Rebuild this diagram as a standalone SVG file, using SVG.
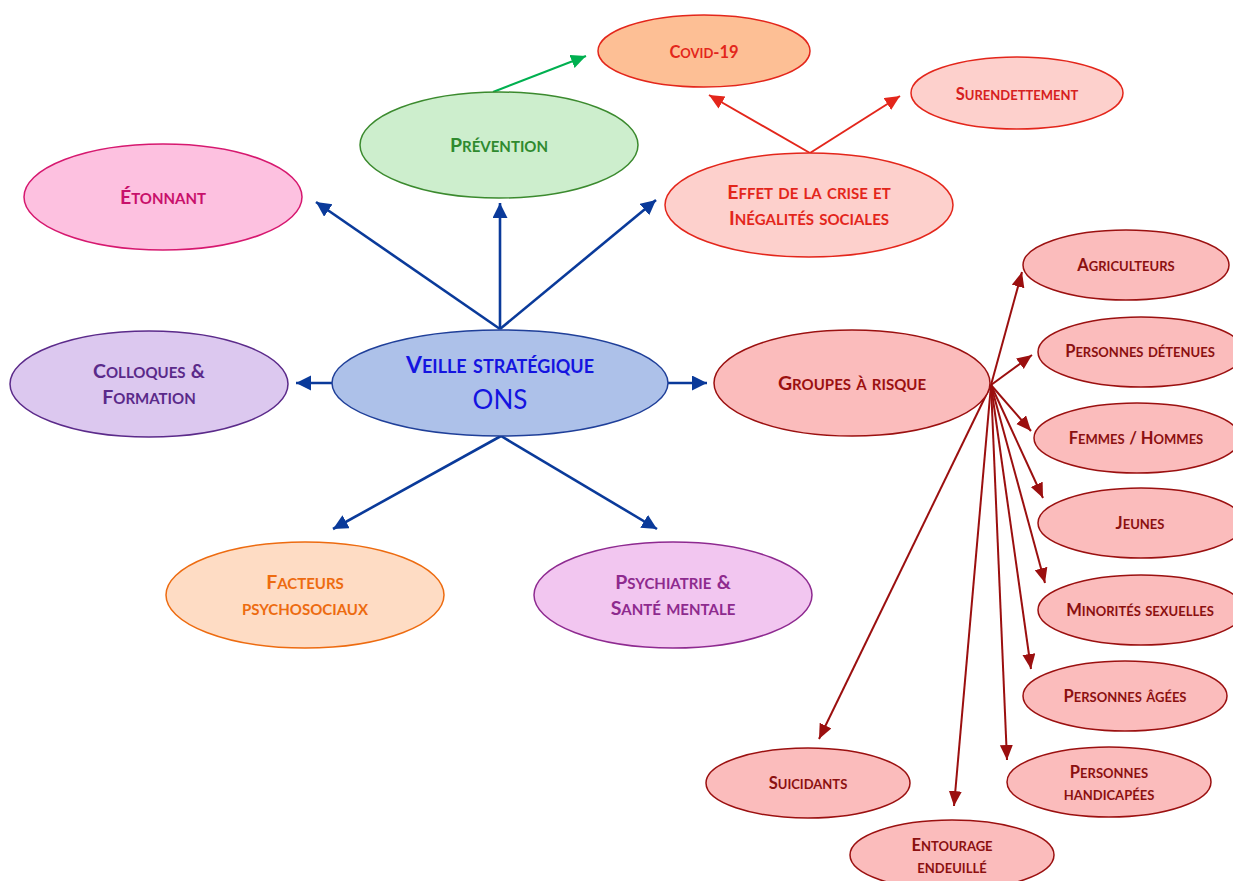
<svg xmlns="http://www.w3.org/2000/svg" width="1233" height="881" viewBox="0 0 1233 881">
<defs>
<style>
text{font-family:Lato,"Open Sans","Liberation Sans",sans-serif;font-weight:bold;font-variant:small-caps;text-anchor:middle}
.big{font-size:21.5px}
.big tspan{font-size:19.5px}
.sm{font-size:18.1px}
.sm tspan{font-size:16.5px}
.ctr{font-size:26px}
.ctr tspan{font-size:23px}
.blue{stroke:#0a3a9a;stroke-width:2.6;fill:none}
.green{stroke:#00b050;stroke-width:2;fill:none}
.red{stroke:#e3261b;stroke-width:2;fill:none}
.dred{stroke:#9b0f0f;stroke-width:2;fill:none}
.grp ellipse{fill:#fbbcbc;stroke:#9b1010;stroke-width:1.5}
.grp text{fill:#8b1010}
</style>
<marker id="mb" markerUnits="userSpaceOnUse" markerWidth="16" markerHeight="16" refX="15" refY="7.5" orient="auto"><path d="M0,0 L15,7.5 L0,15 z" fill="#0a3a9a"/></marker>
<marker id="mg" markerUnits="userSpaceOnUse" markerWidth="16" markerHeight="16" refX="15" refY="7" orient="auto"><path d="M0,0 L15,7 L0,14 z" fill="#00b050"/></marker>
<marker id="mr" markerUnits="userSpaceOnUse" markerWidth="16" markerHeight="16" refX="15" refY="7" orient="auto"><path d="M0,0 L15,7 L0,14 z" fill="#e3261b"/></marker>
<marker id="md" markerUnits="userSpaceOnUse" markerWidth="16" markerHeight="16" refX="15" refY="6.5" orient="auto"><path d="M0,0 L15,6.5 L0,13 z" fill="#9b0f0f"/></marker>
</defs>
<rect width="1233" height="881" fill="#ffffff"/>

<g id="connectors">
<line class="blue" x1="500" y1="329" x2="316" y2="202" marker-end="url(#mb)"/>
<line class="blue" x1="500" y1="329" x2="500" y2="203" marker-end="url(#mb)"/>
<line class="blue" x1="500" y1="329" x2="656" y2="200" marker-end="url(#mb)"/>
<line class="blue" x1="333" y1="383" x2="296" y2="383" marker-end="url(#mb)"/>
<line class="blue" x1="668" y1="383" x2="707" y2="383" marker-end="url(#mb)"/>
<line class="blue" x1="501" y1="436" x2="333" y2="529" marker-end="url(#mb)"/>
<line class="blue" x1="501" y1="436" x2="657" y2="529" marker-end="url(#mb)"/>
<line class="green" x1="493" y1="92" x2="586" y2="56" marker-end="url(#mg)"/>
<line class="red" x1="810" y1="153" x2="709" y2="95" marker-end="url(#mr)"/>
<line class="red" x1="810" y1="153" x2="900" y2="96" marker-end="url(#mr)"/>
<line class="dred" x1="991" y1="385" x2="1022" y2="272" marker-end="url(#md)"/>
<line class="dred" x1="991" y1="385" x2="1032" y2="355" marker-end="url(#md)"/>
<line class="dred" x1="991" y1="385" x2="1031" y2="431" marker-end="url(#md)"/>
<line class="dred" x1="991" y1="385" x2="1043" y2="498" marker-end="url(#md)"/>
<line class="dred" x1="991" y1="385" x2="1045" y2="583" marker-end="url(#md)"/>
<line class="dred" x1="991" y1="385" x2="1031" y2="669" marker-end="url(#md)"/>
<line class="dred" x1="991" y1="385" x2="1007" y2="760" marker-end="url(#md)"/>
<line class="dred" x1="991" y1="385" x2="954" y2="806" marker-end="url(#md)"/>
<line class="dred" x1="991" y1="385" x2="819" y2="739" marker-end="url(#md)"/>
</g>

<g id="node-veille">
<ellipse cx="500" cy="383" rx="168" ry="53" fill="#adc1e9" stroke="#1f3f99" stroke-width="1.5"/>
<text class="ctr" x="500" y="373" fill="#1414e0"><tspan>V</tspan>eille stratégique</text>
<text x="500" y="409" font-size="26" fill="#1414e0" style="font-weight:normal;font-variant:normal">ONS</text>
</g>
<g id="node-prevention">
<ellipse cx="499" cy="145" rx="139" ry="53" fill="#cdeecd" stroke="#3b8a2e" stroke-width="1.5"/>
<text class="big" x="499" y="152" fill="#2f8a2f"><tspan>P</tspan>révention</text>
</g>
<g id="node-etonnant">
<ellipse cx="163" cy="197" rx="139" ry="53" fill="#fdc1e0" stroke="#d6186f" stroke-width="1.5"/>
<text class="big" x="163" y="204" fill="#c8106b"><tspan>É</tspan>tonnant</text>
</g>
<g id="node-effet">
<ellipse cx="809" cy="205" rx="144" ry="52" fill="#fdd0cc" stroke="#e3261b" stroke-width="1.5"/>
<text class="big" x="809" y="199" fill="#e3261b"><tspan>E</tspan>ffet de la crise et</text>
<text class="big" x="809" y="225" fill="#e3261b"><tspan>I</tspan>négalités sociales</text>
</g>
<g id="node-covid">
<ellipse cx="704" cy="51" rx="106" ry="36" fill="#fdbf95" stroke="#e3261b" stroke-width="1.5"/>
<text class="sm" x="704" y="58" fill="#e3261b"><tspan>C</tspan>ovid<tspan>-19</tspan></text>
</g>
<g id="node-surendettement">
<ellipse cx="1017" cy="93" rx="106" ry="36" fill="#fdd0cc" stroke="#e3261b" stroke-width="1.5"/>
<text class="sm" x="1017" y="100" fill="#d62020"><tspan>S</tspan>urendettement</text>
</g>
<g id="node-colloques">
<ellipse cx="149" cy="384" rx="139" ry="53" fill="#dcc8ef" stroke="#5b2a8a" stroke-width="1.5"/>
<text class="big" x="149" y="378" fill="#5a2a8a"><tspan>C</tspan>olloques <tspan>&amp;</tspan></text>
<text class="big" x="149" y="404" fill="#5a2a8a"><tspan>F</tspan>ormation</text>
</g>
<g id="node-groupes">
<ellipse cx="852" cy="383" rx="138" ry="53" fill="#fbbcbc" stroke="#9b1010" stroke-width="1.5"/>
<text class="big" x="852" y="390" fill="#9b1010"><tspan>G</tspan>roupes à risque</text>
</g>
<g id="node-facteurs">
<ellipse cx="305" cy="595" rx="139" ry="53" fill="#fedcc4" stroke="#ed6b10" stroke-width="1.5"/>
<text class="big" x="305" y="589" fill="#ed6b10"><tspan>F</tspan>acteurs</text>
<text class="big" x="305" y="615" fill="#ed6b10">psychosociaux</text>
</g>
<g id="node-psychiatrie">
<ellipse cx="673" cy="595" rx="139" ry="53" fill="#f2c6f0" stroke="#8e2a90" stroke-width="1.5"/>
<text class="big" x="673" y="589" fill="#8e2a8e"><tspan>P</tspan>sychiatrie <tspan>&amp;</tspan></text>
<text class="big" x="673" y="615" fill="#8e2a8e"><tspan>S</tspan>anté mentale</text>
</g>
<g id="node-agriculteurs" class="grp">
<ellipse cx="1126" cy="265" rx="103" ry="35"/>
<text class="sm" x="1126" y="271"><tspan>A</tspan>griculteurs</text>
</g>
<g id="node-detenues" class="grp">
<ellipse cx="1141" cy="352" rx="103" ry="35"/>
<text class="sm" x="1140" y="357"><tspan>P</tspan>ersonnes détenues</text>
</g>
<g id="node-femmes" class="grp">
<ellipse cx="1137" cy="438" rx="103" ry="35"/>
<text class="sm" x="1136" y="444"><tspan>F</tspan>emmes <tspan>/ H</tspan>ommes</text>
</g>
<g id="node-jeunes" class="grp">
<ellipse cx="1141" cy="523" rx="103" ry="35"/>
<text class="sm" x="1140" y="529"><tspan>J</tspan>eunes</text>
</g>
<g id="node-minorites" class="grp">
<ellipse cx="1141" cy="610" rx="103" ry="35"/>
<text class="sm" x="1140" y="616"><tspan>M</tspan>inorités sexuelles</text>
</g>
<g id="node-agees" class="grp">
<ellipse cx="1125" cy="696" rx="102" ry="35"/>
<text class="sm" x="1125" y="702"><tspan>P</tspan>ersonnes âgées</text>
</g>
<g id="node-handicapees" class="grp">
<ellipse cx="1109" cy="782" rx="102" ry="35"/>
<text class="sm" x="1109" y="778"><tspan>P</tspan>ersonnes</text>
<text class="sm" x="1109" y="800">handicapées</text>
</g>
<g id="node-suicidants" class="grp">
<ellipse cx="808" cy="783" rx="102" ry="35"/>
<text class="sm" x="808" y="789"><tspan>S</tspan>uicidants</text>
</g>
<g id="node-entourage" class="grp">
<ellipse cx="952" cy="855" rx="102" ry="35"/>
<text class="sm" x="952" y="851"><tspan>E</tspan>ntourage</text>
<text class="sm" x="952" y="873">endeuillé</text>
</g>
</svg>
